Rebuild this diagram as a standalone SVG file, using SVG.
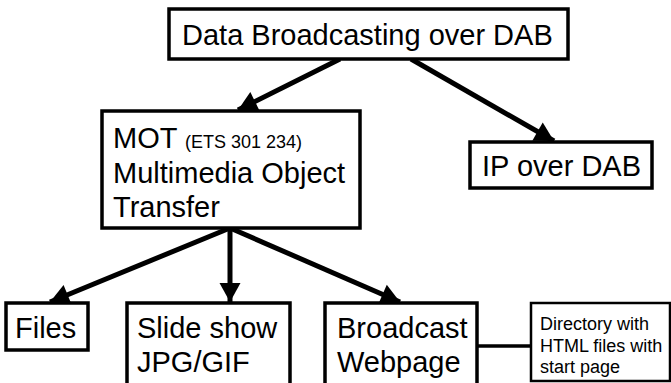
<svg xmlns="http://www.w3.org/2000/svg" width="671" height="383" viewBox="0 0 671 383">
<style>
.box{fill:#fff;stroke:#000;stroke-width:3.5}
.t{font-family:"Liberation Sans",Arial,sans-serif;font-size:29px;fill:#000}
.s{font-family:"Liberation Sans",Arial,sans-serif;font-size:18px;fill:#000}
.c{stroke:#000;stroke-width:5;fill:none}
</style>
<defs>
<marker id="ah" markerUnits="userSpaceOnUse" markerWidth="24" markerHeight="24" viewBox="0 0 24 24" refX="21" refY="12" orient="auto">
<path d="M2,1.5 L21,12 L2,22.5 Z" fill="#000"/>
</marker>
</defs>
<g id="connectors">
<line class="c" x1="340" y1="59" x2="238" y2="110" marker-end="url(#ah)"/>
<line class="c" x1="411" y1="59" x2="554" y2="141" marker-end="url(#ah)"/>
<line class="c" x1="230" y1="228" x2="50" y2="302" marker-end="url(#ah)"/>
<line class="c" x1="230" y1="228" x2="230" y2="302" marker-end="url(#ah)"/>
<line class="c" x1="230" y1="228" x2="400" y2="302" marker-end="url(#ah)"/>
<line x1="477" y1="346" x2="531" y2="346" stroke="#000" stroke-width="3.5"/>
</g>
<g id="root">
<rect class="box" x="169" y="9" width="399" height="50"/>
<text class="t" x="182" y="45">Data Broadcasting over DAB</text>
</g>
<g id="mot">
<rect class="box" x="102" y="111" width="258" height="117"/>
<text class="t" x="113" y="148">MOT <tspan font-size="18">(ETS 301 234)</tspan></text>
<text class="t" x="113" y="183">Multimedia Object</text>
<text class="t" x="113" y="217">Transfer</text>
</g>
<g id="ip">
<rect class="box" x="470" y="142" width="182" height="46"/>
<text class="t" x="482" y="176">IP over DAB</text>
</g>
<g id="files">
<rect class="box" x="6" y="303" width="82" height="47"/>
<text class="t" x="15" y="338">Files</text>
</g>
<g id="slideshow">
<rect class="box" x="127" y="303" width="163" height="90"/>
<text class="t" x="137" y="338">Slide show</text>
<text class="t" x="137" y="372">JPG/GIF</text>
</g>
<g id="webpage">
<rect class="box" x="325" y="303" width="152" height="90"/>
<text class="t" x="337" y="338">Broadcast</text>
<text class="t" x="337" y="372">Webpage</text>
</g>
<g id="directory">
<rect x="531" y="303" width="139" height="78" fill="#fff" stroke="#000" stroke-width="2.5"/>
<text class="s" x="540" y="330">Directory with</text>
<text class="s" x="540" y="352">HTML files with</text>
<text class="s" x="540" y="373">start page</text>
</g>
</svg>
